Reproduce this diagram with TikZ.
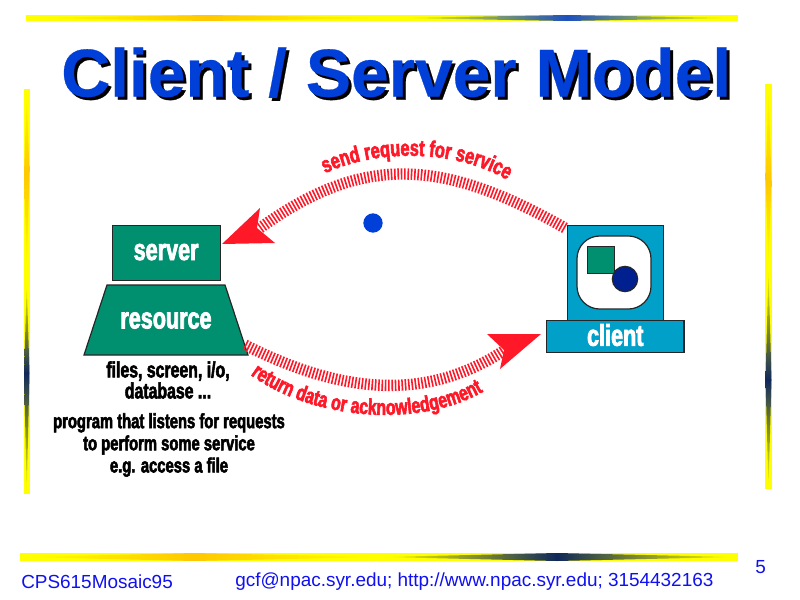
\documentclass[tikz,border=0pt]{standalone}
\usepackage{fontspec}
\setmainfont{Liberation Sans}
\newfontfamily\headfont[FakeBold=0.4]{Liberation Sans Bold}
\newfontfamily\labfont[FakeStretch=0.72,FakeBold=2.5]{Liberation Sans Bold}
\newfontfamily\footfont{Liberation Sans}
\usetikzlibrary{decorations.text,shadings}
\definecolor{titleblue}{RGB}{0,64,216}
\definecolor{boxgreen}{RGB}{0,144,112}
\definecolor{boxcyan}{RGB}{0,160,200}
\definecolor{navy}{RGB}{0,32,144}
\definecolor{arrowred}{RGB}{255,24,40}
\definecolor{footblue}{RGB}{16,16,240}
\definecolor{baryellow}{RGB}{255,255,0}
\definecolor{barorange}{RGB}{255,200,0}
\definecolor{bardark}{RGB}{16,40,90}
\definecolor{barblue}{RGB}{30,80,190}
% horizontal lens: colour #6, from x #1 through #2 to #3, between y #4 and #5
\newcommand{\hlens}[6]{%
  \shade[left color=baryellow,right color=#6] (#1,{(#4+#5)/2}) -- (#2,#4) -- (#2,#5) -- cycle;
  \shade[left color=#6,right color=baryellow] (#3,{(#4+#5)/2}) -- (#2,#4) -- (#2,#5) -- cycle;}
% vertical lens: colour #6, from y #1 through #2 to #3, between x #4 and #5
\newcommand{\vlens}[6]{%
  \shade[top color=baryellow,bottom color=#6] ({(#4+#5)/2},#1) -- (#4,#2) -- (#5,#2) -- cycle;
  \shade[top color=#6,bottom color=baryellow] ({(#4+#5)/2},#3) -- (#4,#2) -- (#5,#2) -- cycle;}
\tikzset{
  x=0.75pt,y=-0.75pt,
  outlined/.style={draw=black!85,line width=0.9pt},
  greenbox/.style={outlined,fill=boxgreen},
  cyanbox/.style={outlined,fill=boxcyan},
  striped/.style={draw=arrowred,line width=8.5pt,dash pattern=on 1.2pt off 1.3pt},
  head/.style={fill=arrowred,draw=none},
  barbase/.style={fill=baryellow,draw=none},
  blabel/.style={text=white,font=\labfont\fontsize{22.5}{26}\selectfont,inner sep=0pt},
  klabel/.style={text=black,inner sep=0pt,align=center},
  foot/.style={text=footblue,font=\footfont\fontsize{14.2}{16}\selectfont,inner sep=0pt,anchor=base west},
}
\begin{document}
\begin{tikzpicture}
\useasboundingbox (0,0) rectangle (800,600);
\fill[white] (0,0) rectangle (800,600);
% decorative bars
\fill[barbase] (26,15) rectangle (738,21);
\hlens{30}{207}{400}{15}{21}{barorange}
\hlens{400}{567}{735}{15}{21}{barblue}
\fill[barbase] (20,553) rectangle (738,561);
\hlens{24}{194}{380}{553}{561}{barorange}
\hlens{383}{557}{735}{553}{561}{bardark}
\fill[barbase] (23.5,89) rectangle (30,494);
\vlens{92}{173}{270}{24}{29.5}{barorange}
\vlens{283}{373}{492}{24}{29.5}{bardark}
\fill[barbase] (765,84) rectangle (772,489);
\vlens{88}{180}{265}{765.5}{771.5}{barorange}
\vlens{270}{380}{487}{765.5}{771.5}{bardark}
% title
\node[anchor=base west,inner sep=0pt,text=black,font=\headfont\fontsize{50.8}{60}\selectfont] (titleshadow) at (64,99.5) {Client / Server Model};
\node[anchor=base west,inner sep=0pt,text=titleblue,font=\headfont\fontsize{50.8}{60}\selectfont] (titletext) at (61,96.5) {Client / Server Model};
% server side
\node[greenbox,minimum width=81pt,minimum height=41pt,inner sep=0pt,anchor=north west,blabel] (server) at (111.5,225) {\raisebox{1.5pt}{server}};
\draw[greenbox] (107,285) -- (225,285) -- (248,355) -- (84,355) -- cycle;
\node[blabel] (resource) at (166,320.5) {resource};
\node[klabel,font=\labfont\fontsize{16.5}{15.8}\selectfont] (files) at (168,380) {files, screen, i/o,\\database ...};
\node[klabel,font=\labfont\fontsize{15.4}{16.6}\selectfont] (prog) at (169,445) {program that listens for requests\\to perform some service\\e.g. access a file};
% client
\node[cyanbox,minimum width=72pt,minimum height=71pt,inner sep=0pt,anchor=north west] (monitor) at (567,225) {};
\node[cyanbox,minimum width=103pt,minimum height=24pt,inner sep=0pt,anchor=north west,blabel] (client) at (546,320) {\raisebox{2.5pt}{client}};
\draw[outlined,fill=white,rounded corners=17pt] (577,236) rectangle (651,309);
\node[greenbox,minimum width=20pt,minimum height=20pt,inner sep=0pt,anchor=north west] (sq) at (587,246) {};
\node[outlined,fill=navy,circle,minimum size=19pt,inner sep=0pt] (disk) at (625,279) {};
% dot
\node[fill=titleblue,circle,minimum size=14.5pt,inner sep=0pt] (dot) at (373,223) {};
% arrows
\coordinate (a1) at (565,228);
\coordinate (a2) at (260,228);
\coordinate (b1) at (245,345);
\coordinate (b2) at (505,350);
\draw[striped] (a1) .. controls (439,156) and (360,156) .. (a2);
\draw[striped] (b1) .. controls (350,398) and (432,398) .. (b2);
\draw[head] (222,244) -- (260,208) -- (257,228) -- (275,243) -- cycle;
\draw[head] (541,334) -- (487,334) -- (504,350) -- (500,369) -- cycle;
% curved labels
\path[decorate,decoration={text along path,text align=center,text={|\labfont\fontsize{17}{20}\selectfont\color{arrowred}|send request for service}}] (320,176) .. controls (375,147) and (460,149) .. (512,183);
\path[decorate,decoration={text along path,text align=center,text={|\labfont\fontsize{16.5}{20}\selectfont\color{arrowred}|return data or acknowledgement}}] (248,373) .. controls (310,420) and (420,430) .. (486,390);
% footer
\node[foot] (f1) at (21,588) {CPS615Mosaic95};
\node[foot] (f2) at (235,586) {gcf@npac.syr.edu; http://www.npac.syr.edu; 3154432163};
\node[foot] (f3) at (755,573) {5};
\end{tikzpicture}
\end{document}
